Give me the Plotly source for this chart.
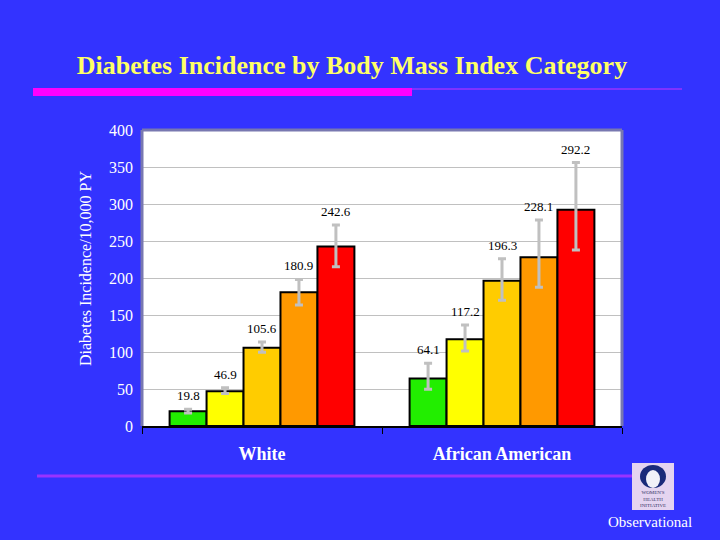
import plotly.graph_objects as go

groups = ["White", "African American"]
bmi_names = ["BMI 1", "BMI 2", "BMI 3", "BMI 4", "BMI 5"]
bmi_colors = ["#22EE00", "#FFFF00", "#FFCC00", "#FF9900", "#FF0000"]
rates = [
    [19.8, 64.1],
    [46.9, 117.2],
    [105.6, 196.3],
    [180.9, 228.1],
    [242.6, 292.2],
]
ci_upper = [
    [22.5, 84.7],
    [51.8, 136.5],
    [113.5, 226.0],
    [198.0, 278.4],
    [271.6, 356.0],
]
ci_lower = [
    [17.5, 49.5],
    [44.0, 101.4],
    [99.5, 170.0],
    [163.5, 187.4],
    [215.3, 237.8],
]
y_ticks = [0, 50, 100, 150, 200, 250, 300, 350, 400]

BG = "#3333FF"
SERIF = "Liberation Serif, Times New Roman, serif"
BARGAP = 0.23

# plot area in pixels
L, R, T, B = 142, 622, 130, 426
W, H = 720, 540


def px(x):
    return (x - L) / (R - L)


def py(y):
    return (B - y) / (B - T)


fig = go.Figure()
for i, name in enumerate(bmi_names):
    plus = [u - v for u, v in zip(ci_upper[i], rates[i])]
    minus = [v - l for v, l in zip(rates[i], ci_lower[i])]
    fig.add_trace(go.Bar(
        name=name,
        x=groups,
        y=rates[i],
        marker=dict(color=bmi_colors[i], line=dict(color="black", width=2)),
        error_y=dict(type="data", symmetric=False, array=plus, arrayminus=minus,
                     color="#C0C0C0", thickness=3, width=4),
        showlegend=False,
        hoverinfo="skip",
    ))

annotations = []
n = len(bmi_names)
bw = (1 - BARGAP) / n
for i in range(n):
    for g in range(len(groups)):
        annotations.append(dict(
            x=g + (i - (n - 1) / 2) * bw, y=ci_upper[i][g], xref="x", yref="y",
            text=f"{rates[i][g]:.1f}", showarrow=False,
            xanchor="center", yanchor="bottom", yshift=4,
            font=dict(family=SERIF, size=13, color="black"),
        ))

annotations.append(dict(
    x=px(85), y=py(268), xref="paper", yref="paper", xanchor="center", yanchor="middle",
    text="Diabetes Incidence/10,000 PY", textangle=-90, showarrow=False,
    font=dict(family=SERIF, size=16, color="white"),
))
annotations.append(dict(
    x=px(650), y=py(522), xref="paper", yref="paper", xanchor="center", yanchor="middle",
    text="Observational", showarrow=False,
    font=dict(family=SERIF, size=15, color="white"),
))
annotations.append(dict(
    x=px(653), y=py(499), xref="paper", yref="paper", xanchor="center", yanchor="middle",
    text="WOMEN'S<br>HEALTH<br>INITIATIVE", showarrow=False,
    font=dict(family=SERIF, size=5, color="#333366"),
))

shapes = [
    # frame (left, top, right)
    dict(type="line", xref="paper", yref="paper", x0=0, x1=0, y0=0, y1=1,
         line=dict(color="#7878B0", width=3)),
    dict(type="line", xref="paper", yref="paper", x0=0, x1=1, y0=1, y1=1,
         line=dict(color="#7878B0", width=3)),
    dict(type="line", xref="paper", yref="paper", x0=1, x1=1, y0=0, y1=1,
         line=dict(color="#7878B0", width=3)),
    # header bars
    dict(type="rect", xref="paper", yref="paper", x0=px(33), x1=px(412), y0=py(96), y1=py(88),
         fillcolor="#FF00FF", line=dict(width=0)),
    dict(type="line", xref="paper", yref="paper", x0=px(412), x1=px(682), y0=py(89), y1=py(89),
         line=dict(color="#CC33FF", width=1)),
    # footer line
    dict(type="line", xref="paper", yref="paper", x0=px(37), x1=px(633), y0=py(476), y1=py(476),
         line=dict(color="#9933FF", width=3)),
    # logo
    dict(type="rect", xref="paper", yref="paper", x0=px(632), x1=px(674), y0=py(510), y1=py(463),
         fillcolor="#E4D4F0", line=dict(width=0)),
    dict(type="circle", xref="paper", yref="paper", x0=px(640), x1=px(666), y0=py(488), y1=py(465),
         fillcolor="#1A2A7A", line=dict(width=0)),
    dict(type="circle", xref="paper", yref="paper", x0=px(646), x1=px(660), y0=py(488), y1=py(470),
         fillcolor="#F0F0F8", line=dict(width=0)),
]

fig.update_layout(
    width=W, height=H,
    margin=dict(l=L, r=W - R, t=T, b=H - B, pad=0),
    paper_bgcolor=BG, plot_bgcolor="white",
    barmode="group", bargap=BARGAP, bargroupgap=0,
    title=dict(text="<b>Diabetes Incidence by Body Mass Index Category</b>",
               x=352 / W, xref="container", xanchor="center",
               y=1 - 65 / H, yref="container", yanchor="middle",
               font=dict(family=SERIF, size=26, color="#FFFF66")),
    xaxis=dict(
        tickmode="array", tickvals=groups, ticktext=["<b>White</b>", "<b>African American</b>"],
        tickson="boundaries", ticks="outside", ticklen=6, tickcolor="black", tickwidth=1,
        showline=True, linecolor="black", linewidth=2,
        tickfont=dict(family=SERIF, size=18, color="white"),
        ticklabelstandoff=10, showgrid=False,
    ),
    yaxis=dict(
        range=[0, 400], tickvals=y_ticks, showgrid=True, gridcolor="#C0C0C0", gridwidth=1,
        zeroline=False, showline=False, ticks="",
        tickfont=dict(family=SERIF, size=16, color="white"),
        ticklabelstandoff=8,
    ),
    annotations=annotations,
    shapes=shapes,
)

fig.write_html(
    "out.html",
    config={"displayModeBar": False},
    post_script="document.body.style.margin='0';document.body.style.overflow='hidden';",
)
